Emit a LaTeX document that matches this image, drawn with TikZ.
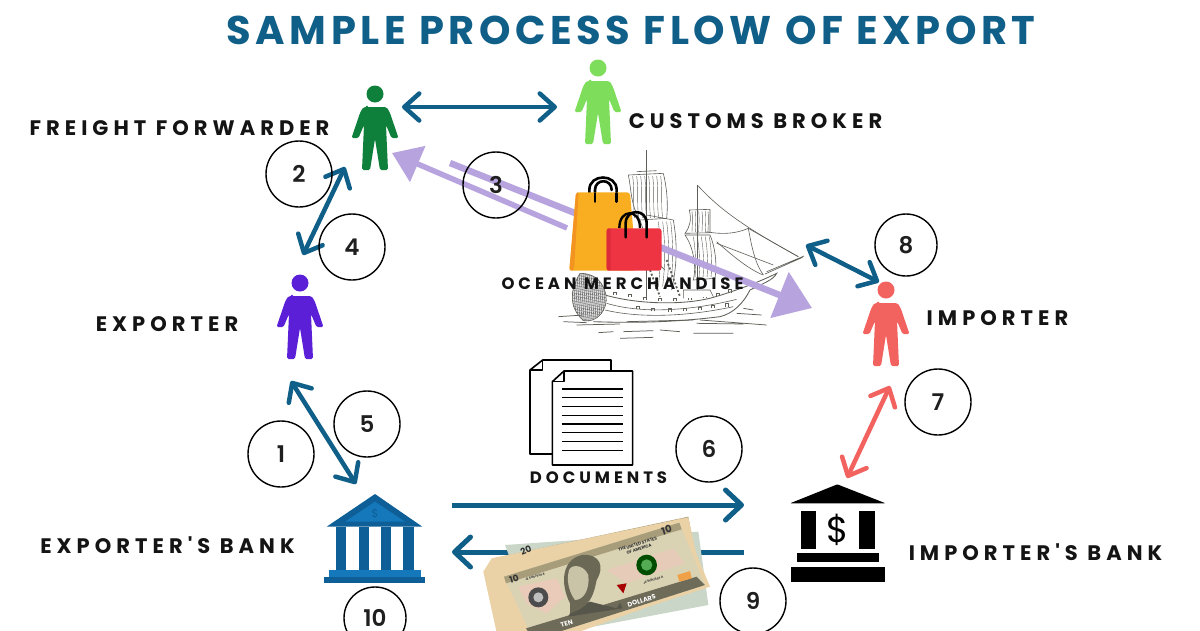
\documentclass[tikz,border=0pt]{standalone}
\usepackage{fontspec}
\usetikzlibrary{arrows.meta}
\newfontfamily\titlefont[LetterSpace=11.5]{Poppins Bold}
\newfontfamily\labelfont[LetterSpace=24]{Poppins Bold}
\newfontfamily\numfont{Poppins SemiBold}
\setmainfont{Poppins}
\definecolor{flowblue}{HTML}{0F5F88}
\definecolor{lilac}{HTML}{B7A3DE}
\definecolor{salmon}{HTML}{F2625F}
\definecolor{bankdark}{HTML}{0E5F97}
\definecolor{banklite}{HTML}{1578BB}
\definecolor{beige}{HTML}{EBD2A6}
\definecolor{shipline}{HTML}{5F5F58}
\definecolor{ffgreen}{HTML}{0F7F3C}
\definecolor{cbgreen}{HTML}{7FDD5C}
\definecolor{expurple}{HTML}{5A1FD6}
\definecolor{bagorange}{HTML}{F9AE22}
\definecolor{bagdark}{HTML}{F2941F}
\definecolor{bagred}{HTML}{EE3342}
\definecolor{bagreddark}{HTML}{DC2B3A}
\definecolor{billface}{HTML}{D9D3B4}
\definecolor{billedge}{HTML}{A89D7B}
\definecolor{billdark}{HTML}{56564A}
\definecolor{billback}{HTML}{C9D6C8}
\tikzset{
  two/.style={line width=4.5pt,draw=flowblue,{Straight Barb[length=15pt,width=27pt,round]}-{Straight Barb[length=15pt,width=27pt,round]}},
  one/.style={line width=5pt,draw=flowblue,-{Straight Barb[length=16pt,width=30pt,round]}},
  fat/.style={draw=lilac,line width=6.5pt,-{Triangle[length=35pt,width=48pt]}},
  fatb/.style={draw=lilac,line width=5.5pt,-{Triangle[length=28pt,width=38pt]}},
  numc/.style={draw=black,line width=1.4pt,circle,inner sep=0pt,minimum size=66pt,font=\numfont\fontsize{23}{25}\selectfont,text=black!88},
  lab/.style={font=\labelfont\fontsize{21}{23}\selectfont,text=black!92,inner sep=0pt},
  smalllab/.style={font=\labelfont\fontsize{16.5}{18}\selectfont,text=black!92,inner sep=0pt},
  ship/.style={draw=shipline,line width=.6pt},
  fine/.style={draw=shipline,line width=.4pt},
  personbox/.style={inner sep=0pt,minimum width=46pt,minimum height=86pt},
  billtext/.style={rotate=17,inner sep=0pt,font=\bfseries\fontsize{4.2}{5}\selectfont,text=black!80},
}
\newcommand{\person}[4]{% name, x, head y, colour
  \node[personbox] (#1) at (#2,#3+32) {};
  \begin{scope}[shift={(#2,#3)}]
    \fill[#4] (0,0) circle (8.5);
    \fill[#4,rounded corners=1.5pt] (-8,13) -- (8,13) .. controls (12,13) and (13,15) .. (15,19) -- (23.5,44) -- (16.5,44) -- (11,31) -- (13,76) -- (5,76) -- (0,45) -- (-5,76) -- (-13,76) -- (-11,31) -- (-16.5,44) -- (-23.5,44) -- (-15,19) .. controls (-13,15) and (-12,13) .. cycle;
  \end{scope}}
\begin{document}
\begin{tikzpicture}[x=1pt,y=-1pt]
\clip (0,0) rectangle (1200,630);
\fill[white] (0,0) rectangle (1200,630);

% ship (zoom coordinates)
\begin{scope}[shift={(480,140)},scale=.33333]
  \draw[ship,line width=1.1pt] (500,30) -- (500,470);
  \draw[ship,line width=1.1pt] (652,135) -- (652,470);
  \draw[ship] (445,105) -- (550,100) (470,95) -- (530,92);
  \draw[ship] (445,105) .. controls (455,150) and (450,190) .. (480,240) -- (560,235) .. controls (565,190) and (560,140) .. (550,100);
  \foreach \a in {458,470,482,494,506,518,530,542}{\draw[fine] (\a,108) .. controls (\a+6,150) and (\a,190) .. (\a+6,234);}
  \draw[ship] (500,225) -- (580,240) (480,240) .. controls (500,300) and (520,360) .. (555,390);
  \draw[ship] (580,240) .. controls (592,310) and (592,370) .. (575,450);
  \foreach \a in {535,548,560,572}{\draw[fine] (\a,245) .. controls (\a+8,310) and (\a+8,370) .. (\a,440);}
  \draw[ship] (628,210) -- (690,208) (628,210) .. controls (635,240) and (630,260) .. (615,280) -- (690,278) .. controls (690,250) and (690,230) .. (690,208);
  \foreach \a in {636,646,656,666,676,684}{\draw[fine] (\a,214) .. controls (\a+3,240) and (\a,260) .. (\a,276);}
  \draw[ship] (615,285) .. controls (640,320) and (650,380) .. (640,420) -- (705,415) .. controls (712,370) and (705,320) .. (690,285) -- cycle;
  \foreach \a in {640,652,664,676,688}{\draw[fine] (\a,290) .. controls (\a+8,340) and (\a+8,380) .. (\a+5,412);}
  \draw[ship] (652,135) .. controls (720,210) and (800,265) .. (955,350);
  \draw[ship] (680,275) .. controls (730,285) and (770,280) .. (805,265) .. controls (815,320) and (825,370) .. (850,405);
  \draw[ship] (710,305) .. controls (760,350) and (810,390) .. (850,405);
  \draw[ship] (710,310) -- (880,375) (805,265) -- (955,350);
  \draw[ship] (860,395) -- (972,348) (855,402) -- (968,352);
  \draw[ship,line width=.85pt] (375,465) .. controls (480,495) and (620,495) .. (700,472) .. controls (760,455) and (840,425) .. (890,400) .. controls (880,420) and (850,430) .. (810,450) .. controls (790,490) and (760,520) .. (720,530) .. controls (600,545) and (480,550) .. (340,545);
  \draw[ship] (380,490) .. controls (480,520) and (620,515) .. (770,478);
  \draw[ship] (375,510) .. controls (480,535) and (620,530) .. (760,500);
  \foreach \a/\b in {400/465,445/472,490/480,535/484,580/484,625/480,670/475,710/468,745/458,470/507,515/514,565/515,610/513,655/510,695/505,735/500}{
    \draw[ship] (\a,\b) -- (\a,\b-9) -- (\a+9,\b-9) -- (\a+9,\b);}
  \draw[ship,fill=white] (610,475) -- (610,450) -- (690,450) -- (700,470);
  \draw[ship,line width=1.8pt,dash pattern=on 2pt off 2pt] (560,360) -- (600,470);
  \draw[ship,line width=1.8pt,dash pattern=on 2pt off 2pt] (510,390) -- (540,470);
  \fill[black!12] (300,400) .. controls (270,450) and (265,500) .. (310,542) .. controls (350,550) and (385,510) .. (378,465) .. controls (370,430) and (350,400) .. (300,400) -- cycle;
  \begin{scope}
    \clip (300,400) .. controls (270,450) and (265,500) .. (310,542) .. controls (350,550) and (385,510) .. (378,465) .. controls (370,430) and (350,400) .. (300,400) -- cycle;
    \foreach \a in {0,6,...,120}{\draw[black!75,line width=.35pt] (270+\a,400) -- (260+\a,550);}
    \foreach \a in {0,8,...,160}{\draw[black!60,line width=.3pt] (260,390+\a) -- (390,420+\a);}
  \end{scope}
  \draw[ship] (300,400) .. controls (270,450) and (265,500) .. (310,542) .. controls (350,550) and (385,510) .. (378,465) .. controls (370,430) and (350,400) .. (300,400) -- cycle;
  \draw[ship,line width=.75pt] (235,530) -- (310,525) (250,545) -- (320,548) (290,555) -- (420,552) (440,545) -- (640,540) (660,540) -- (860,555) (770,520) -- (845,525) (790,505) -- (820,510) (355,578) -- (400,575) (430,575) -- (520,572) (540,570) -- (600,575) (640,580) -- (760,580) (420,595) -- (520,592) (650,550) -- (790,552);
\end{scope}

\person{ff}{375}{94}{ffgreen}
\person{cb}{598}{68}{cbgreen}
\person{ex}{300}{283}{expurple}
\person{im}{886}{290}{salmon}

\coordinate (ffR) at (402,107); \coordinate (cbL) at (557,107);
\coordinate (ffB) at (345,167); \coordinate (exT) at (303,255);
\coordinate (exB) at (291,381); \coordinate (ebT) at (356,484);
\coordinate (ebR) at (452,505); \coordinate (ibL) at (744,505);
\coordinate (ibM) at (744,552); \coordinate (ebM) at (452,552);
\coordinate (imB) at (890,386); \coordinate (ibT) at (847,478);
\coordinate (shR) at (806,245); \coordinate (imT) at (879,282);
\coordinate (tail) at (567,228); \coordinate (ffS) at (392,153);
\coordinate (start) at (450,163); \coordinate (imS) at (812,308);

\draw[two] (ffR) -- (cbL);
\draw[two] (ffB) -- (exT);
\draw[two] (exB) -- (ebT);
\draw[one] (ebR) -- (ibL);
\draw[one] (ibM) -- (ebM);
\draw[two,draw=salmon] (imB) -- (ibT);
\draw[two] (shR) -- (imT);
\draw[fatb] (tail) -- (ffS);
\draw[fat] (start) -- (imS);

% bags
\begin{scope}[shift={(480,140)},scale=.33333]
  \draw[black,line width=2.6pt,line cap=round] (328,185) -- (328,150) .. controls (328,100) and (410,100) .. (410,150) -- (410,185);
  \draw[black,line width=2.6pt,line cap=round] (345,185) -- (345,150) .. controls (345,115) and (395,115) .. (395,150);
  \fill[rounded corners=3pt,fill=bagorange] (288,157) -- (450,157) -- (470,392) -- (268,392) -- cycle;
  \fill[rounded corners=2pt,fill=bagdark] (288,157) -- (296,157) -- (282,392) -- (268,392) -- cycle;
  \draw[black,line width=2.6pt,line cap=round] (345,160) -- (345,185) (410,160) -- (410,185);
  \fill[rounded corners=3pt,fill=bagred] (380,265) rectangle (545,392);
  \fill[rounded corners=2pt,fill=bagreddark] (380,265) rectangle (392,392);
  \draw[black,line width=2.6pt,line cap=round] (437,292) -- (437,250) .. controls (437,205) and (500,205) .. (500,250) -- (500,292);
  \draw[black,line width=2.4pt] (418,264) .. controls (418,205) and (480,205) .. (480,264);
\end{scope}

% documents
\begin{scope}[shift={(510,350)},scale=.33333]
  \draw[black,line width=1.6pt,fill=white,line join=round] (98,30) -- (303,30) -- (303,312) -- (60,312) -- (60,60) -- cycle;
  \draw[black,line width=1.6pt,line join=round] (60,60) -- (98,60) -- (98,30);
  \draw[black,line width=1.6pt,fill=white,line join=round] (162,63) -- (368,63) -- (368,345) -- (127,345) -- (127,95) -- cycle;
  \draw[black,line width=1.6pt,line join=round] (127,95) -- (162,95) -- (162,63);
  \foreach \y in {117,143,170,196,222,248,274,301}{\draw[black,line width=1.6pt] (155,\y) -- (340,\y);}
\end{scope}

% exporter's bank
\begin{scope}[shift={(310,480)},scale=.33333]
  \fill[bankdark] (195,42) -- (337,140) -- (50,140) -- cycle;
  \fill[banklite] (195,65) -- (285,125) -- (105,125) -- cycle;
  \foreach \a in {78,146,213,280}{\fill[bankdark] (\a,140) rectangle (\a+31,270);}
  \fill[banklite] (58,270) rectangle (332,290);
  \fill[bankdark] (43,290) rectangle (345,308);
  \node[text=bankdark,font=\fontsize{11}{12}\selectfont,inner sep=0pt] (ebd) at (195,100) {\$};
\end{scope}

% importer's bank
\begin{scope}[shift={(780,470)},scale=.33333]
  \fill[black,rounded corners=1pt] (172,43) -- (317,100) -- (30,100) -- cycle;
  \fill[black] (62,122) rectangle (108,238);
  \fill[black] (238,122) rectangle (285,238);
  \fill[black] (52,250) rectangle (296,277);
  \fill[black] (32,290) rectangle (316,336);
  \node[text=black,font=\fontsize{36}{38}\selectfont,inner sep=0pt] (ibd) at (173,180) {\$};
\end{scope}

% money
\begin{scope}[shift={(440,480)},scale=.33333]
  \fill[billback] (195,195) -- (775,155) -- (805,375) -- (300,470) -- cycle;
  \fill[billedge] (160,235) -- (745,110) -- (755,165) -- (200,280) -- cycle;
  \fill[beige] (130,275) -- (155,235) -- (745,112) -- (790,320) -- (240,520) -- (210,640) -- cycle;
  \fill[beige] (180,283) -- (725,115) -- (810,320) -- (272,495) -- cycle;
  \fill[billface] (192,290) -- (718,128) -- (795,315) -- (280,480) -- cycle;
  \fill[billedge] (192,290) -- (718,128) -- (725,148) -- (198,310) -- cycle;
  \fill[billdark!70!billedge] (258,445) -- (770,290) -- (795,315) -- (280,480) -- cycle;
  \fill[pink!35!billface] (500,270) -- (700,205) -- (735,250) -- (560,310) -- cycle;
  \fill[pink!45!billface] (235,320) -- (350,295) -- (375,350) -- (320,400) -- (260,370) -- cycle;
  \fill[black!70] (295,352) circle (30);
  \fill[black!25] (295,352) circle (15);
  \fill[green!30!black] (620,255) circle (31);
  \fill[green!35!gray] (620,255) circle (17);
  \fill[red!65!black] (530,315) -- (560,310) -- (550,340) -- cycle;
  \fill[orange!60!billface] (712,285) -- (750,273) -- (755,295) -- (718,305) -- cycle;
  \fill[billdark] (385,410) -- (395,390) -- (450,365) -- (530,385) -- (540,368) -- (548,385) -- cycle;
  \fill[billdark!75!billedge] (390,370) .. controls (360,310) and (365,240) .. (425,225) .. controls (480,220) and (495,260) .. (470,300) .. controls (460,350) and (450,380) .. (390,400) -- cycle;
  \fill[billface!88!billdark] (385,280) .. controls (385,250) and (430,250) .. (445,285) .. controls (450,330) and (430,360) .. (405,360) .. controls (390,340) and (380,310) .. (385,280) -- cycle;
  \node[billtext,align=center] (mus) at (595,200) {THE UNITED STATES\\OF AMERICA};
  \node[billtext,font=\bfseries\fontsize{3}{4}\selectfont] (msa) at (285,290) {JE 51817534 A};
  \node[billtext,font=\bfseries\fontsize{3}{4}\selectfont] (msb) at (640,300) {JE 51817534 A};
  \node[billtext,text=white,font=\bfseries\fontsize{6.5}{7}\selectfont] (mdollars) at (605,362) {DOLLARS};
  \node[billtext,text=white,font=\bfseries\fontsize{6.5}{7}\selectfont] (mten) at (380,432) {TEN};
  \node[billtext,font=\bfseries\fontsize{9}{10}\selectfont] (mtena) at (222,298) {10};
  \node[billtext,font=\bfseries\fontsize{10}{11}\selectfont] (mtenb) at (680,150) {10};
  \node[billtext,rotate=5,font=\bfseries\fontsize{9}{10}\selectfont] (mtwenty) at (258,212) {20};
\end{scope}

% numbered circles
\node[numc] (n2) at (299,174) {2};
\node[numc] (n4) at (352,247) {4};
\node[numc] (n3) at (496,185) {3};
\node[numc] (n5) at (367,424) {5};
\node[numc] (n1) at (281,454) {1};
\node[numc,minimum size=62pt] (n10) at (375,618) {10};
\node[numc] (n6) at (709,449) {6};
\node[numc] (n9) at (753,601) {9};
\node[numc] (n7) at (938,402) {7};
\node[numc,minimum size=62pt] (n8) at (906,245) {8};

% text
\node[text=flowblue,font=\titlefont\fontsize{40}{44}\selectfont,inner sep=0pt] (title) at (631,30) {SAMPLE PROCESS FLOW OF EXPORT};
\node[lab] (lff) at (179.5,128) {FREIGHT FORWARDER};
\node[lab] (lcb) at (755.5,121) {CUSTOMS BROKER};
\node[lab] (lex) at (167,324) {EXPORTER};
\node[lab] (lim) at (997.5,318) {IMPORTER};
\node[smalllab] (loc) at (622.5,284) {OCEAN MERCHANDISE};
\node[smalllab] (ldo) at (598.5,478) {DOCUMENTS};
\node[lab] (leb) at (167.5,545) {EXPORTER'S BANK};
\node[lab] (lib) at (1035.5,552) {IMPORTER'S BANK};
\end{tikzpicture}
\end{document}
